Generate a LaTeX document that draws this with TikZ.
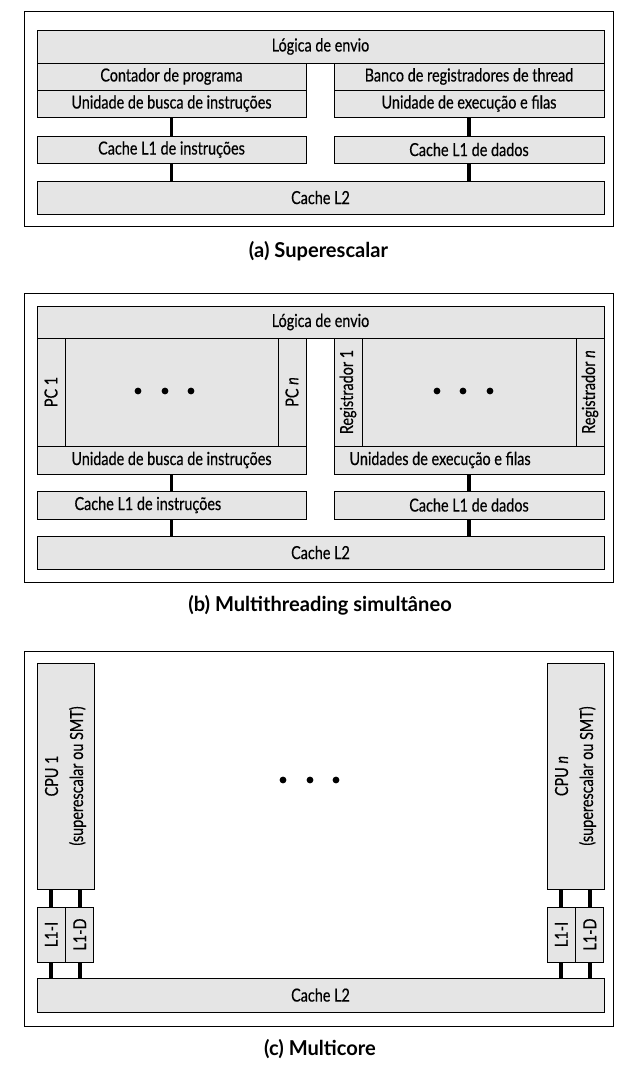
\documentclass[tikz,border=0pt]{standalone}
\usepackage{fontspec}
\setmainfont{Lato}[FakeStretch=0.8, FakeBold=0.4]
\newfontfamily\capfont{Lato}[FakeStretch=0.98]
\usetikzlibrary{positioning,calc}
\definecolor{BoxGray}{gray}{0.9}
\tikzstyle{blk} = [draw=black, fill=BoxGray, line width=0.9pt, inner sep=0pt, rectangle]
\tikzstyle{col} = [blk, rotate=90, minimum height=28]
\tikzstyle{link} = [line width=3.6pt, black]
\tikzstyle{outer} = [draw=black, line width=1pt]
\tikzstyle{legend} = [font=\capfont\bfseries\fontsize{20.5}{24}\selectfont]
\begin{document}
\begin{tikzpicture}[x=1pt, y=-1pt, font=\fontsize{18}{21}\selectfont]
\useasboundingbox (0,0) rectangle (627,1067);
% (a) superescalar
\draw[outer] (24,12) rectangle (613,227);
\node[blk, minimum width=567, minimum height=33] (la) at (320.5,46.5) {Lógica de envio};
\node[blk, minimum width=269, minimum height=27] (pc) at (171.5,76.5) {Contador de programa};
\node[blk, minimum width=270, minimum height=27] (rb) at (469,76.5) {Banco de registradores de thread};
\node[blk, minimum width=269, minimum height=27] (fa) at (171.5,103.5) {Unidade de busca de instruções};
\node[blk, minimum width=270, minimum height=27] (ea) at (469,103.5) {Unidade de execução e filas};
\node[blk, minimum width=269, minimum height=27] (ia) at (171.5,149.5) {Cache L1 de instruções};
\node[blk, minimum width=270, minimum height=27] (da) at (469,149.5) {Cache L1 de dados};
\node[blk, minimum width=567, minimum height=33] (l2a) at (320.5,197.5) {Cache L2};
\draw[link] (fa.south) -- (ia.north);
\draw[link] (ia.south) -- (ia.south |- l2a.north);
\draw[link] (ea.south) -- (da.north);
\draw[link] (da.south) -- (da.south |- l2a.north);
\node[legend] (ca) at (318.5,251) {(a) Superescalar};
% (b) multithreading simultaneo
\draw[outer] (24,293) rectangle (613,582);
\node[blk, minimum width=567, minimum height=32] (lb) at (320.5,322) {Lógica de envio};
\node[blk, minimum width=269, minimum height=108] (pcs) at (171.5,392) {};
\node[blk, minimum width=270, minimum height=108] (rgs) at (469,392) {};
\node[col, minimum width=108] (pc1) at (51,392) {PC 1};
\node[col, minimum width=108] (pcn) at (292,392) {PC \textit{n}};
\node[col, minimum width=108] (rg1) at (348,392) {Registrador 1};
\node[col, minimum width=108] (rgn) at (590,392) {Registrador \textit{n}};
\foreach \x in {138,165,191,437,463,490}
  \fill (\x,391) circle (3.4);
\node[blk, minimum width=269, minimum height=28] (fb) at (171.5,460) {Unidade de busca de instruções};
\node[blk, minimum width=270, minimum height=28] (eb) at (469,460) {};
\node[anchor=west] (ebt) at (346,460) {Unidades de execução e filas};
\node[blk, minimum width=269, minimum height=28] (ib) at (171.5,505) {};
\node[anchor=west] (ibt) at (71,505) {Cache L1 de instruções};
\node[blk, minimum width=270, minimum height=28] (db) at (469,505) {Cache L1 de dados};
\node[blk, minimum width=567, minimum height=33] (l2b) at (320.5,552.5) {Cache L2};
\draw[link] (fb.south) -- (ib.north);
\draw[link] (ib.south) -- (ib.south |- l2b.north);
\draw[link] (eb.south) -- (db.north);
\draw[link] (db.south) -- (db.south |- l2b.north);
\node[legend] (cb) at (320,605) {(b) Multithreading simultâneo};
% (c) multicore
\draw[outer] (24,651) rectangle (613,1026);
\node[blk, rotate=90, minimum width=226, minimum height=57, align=center] (cpu1) at (65.5,776) {CPU 1\\[4pt](superescalar ou SMT)};
\node[blk, rotate=90, minimum width=226, minimum height=57, align=center] (cpun) at (575.5,776) {CPU \textit{n}\\[4pt](superescalar ou SMT)};
\node[col, minimum width=55] (i1) at (51.25,934.5) {L1-I};
\node[col, minimum width=55] (d1) at (79.75,934.5) {L1-D};
\node[col, minimum width=55] (in) at (561.25,934.5) {L1-I};
\node[col, minimum width=55] (dn) at (589.75,934.5) {L1-D};
\node[blk, minimum width=567, minimum height=34] (l2c) at (320.5,995) {Cache L2};
\foreach \x in {283,310,336}
  \fill (\x,780) circle (3.4);
\foreach \c in {i1,d1,in,dn} {
  \draw[link] (\c.east) -- (\c.east |- cpu1.west);
  \draw[link] (\c.west) -- (\c.west |- l2c.north);
}
\node[legend] (cc) at (320,1049) {(c) Multicore};
\end{tikzpicture}
\end{document}
